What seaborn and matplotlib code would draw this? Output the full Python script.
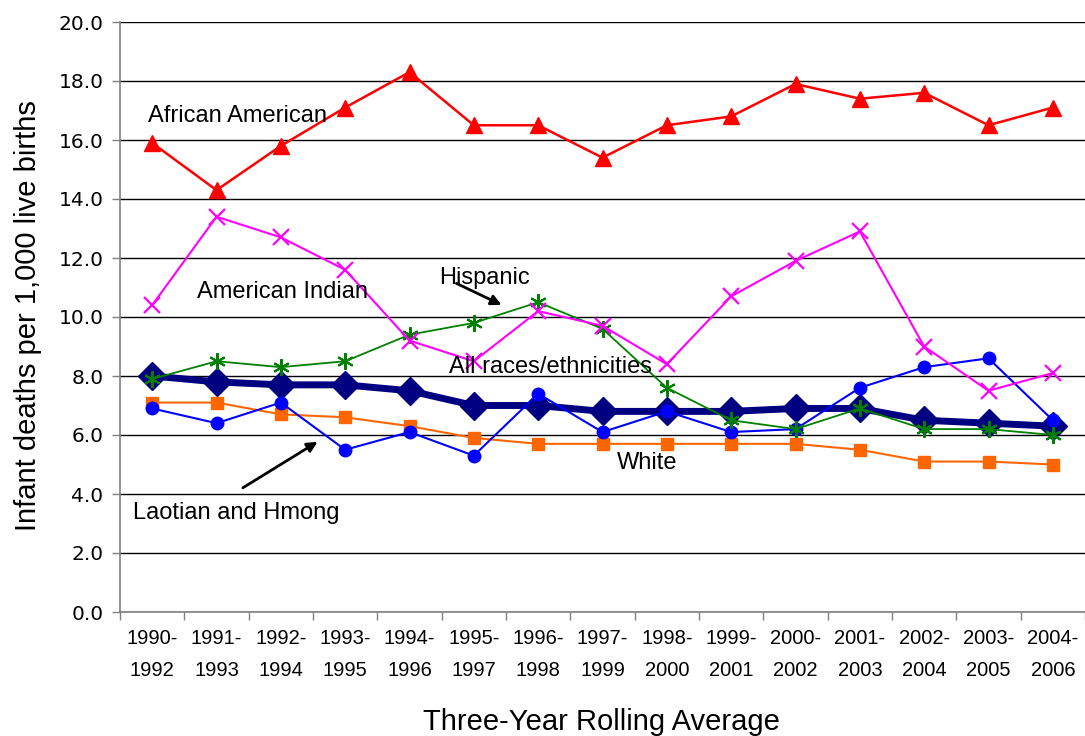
import matplotlib
matplotlib.use("Agg")
import matplotlib.pyplot as plt
from matplotlib.ticker import FixedLocator, FormatStrFormatter
import seaborn as sns
import pandas as pd
import numpy as np

periods = ["1990-1992", "1991-1993", "1992-1994", "1993-1995", "1994-1996",
           "1995-1997", "1996-1998", "1997-1999", "1998-2000", "1999-2001",
           "2000-2002", "2001-2003", "2002-2004", "2003-2005", "2004-2006"]

all_races = [8.0, 7.8, 7.7, 7.7, 7.5, 7.0, 7.0, 6.8, 6.8, 6.8, 6.9, 6.9, 6.5, 6.4, 6.3]
white = [7.1, 7.1, 6.7, 6.6, 6.3, 5.9, 5.7, 5.7, 5.7, 5.7, 5.7, 5.5, 5.1, 5.1, 5.0]
laotian_hmong = [6.9, 6.4, 7.1, 5.5, 6.1, 5.3, 7.4, 6.1, 6.8, 6.1, 6.2, 7.6, 8.3, 8.6, 6.5]
hispanic = [7.9, 8.5, 8.3, 8.5, 9.4, 9.8, 10.5, 9.6, 7.6, 6.5, 6.2, 6.9, 6.2, 6.2, 6.0]
american_indian = [10.4, 13.4, 12.7, 11.6, 9.2, 8.5, 10.2, 9.7, 8.4, 10.7, 11.9, 12.9, 9.0, 7.5, 8.1]
african_american = [15.9, 14.3, 15.8, 17.1, 18.3, 16.5, 16.5, 15.4, 16.5, 16.8, 17.9, 17.4, 17.6, 16.5, 17.1]

y_ticks = [0, 2, 4, 6, 8, 10, 12, 14, 16, 18, 20]

sns.set_theme(style="white")
plt.rcParams["font.family"] = ["Liberation Sans", "DejaVu Sans"]
plt.rcParams.update({"text.color": "black", "axes.labelcolor": "black",
                     "xtick.color": "black", "ytick.color": "black"})

fig = plt.figure(figsize=(10.85, 7.36), dpi=100)
ax = fig.add_axes([120 / 1085, 124 / 736, 965 / 1085, 590 / 736])

pos = np.arange(len(periods))

# series: (values, color, marker, markersize, linewidth, marker edge width)
series = [
    (all_races, "#000080", "D", 14, 5.0, 1.0),
    (white, "#FF6600", "s", 9, 1.5, 1.0),
    (laotian_hmong, "#0000FF", "o", 9, 1.5, 1.0),
    (hispanic, "#008000", (6, 2, 0), 12, 1.3, 1.5),
    (american_indian, "#FF00FF", "x", 11, 1.5, 1.6),
    (african_american, "#FF0000", "^", 12, 1.8, 1.0),
]

for vals, color, mk, ms, lw, mew in series:
    df = pd.DataFrame({"x": pos, "y": vals})
    sns.lineplot(data=df, x="x", y="y", ax=ax, color=color, linewidth=lw,
                 marker=mk, markersize=ms, markeredgecolor=color,
                 markerfacecolor=color, markeredgewidth=mew)

ax.set_xlim(-0.5, len(periods) - 0.5)
ax.set_ylim(0, 20)

ax.yaxis.set_major_locator(FixedLocator(y_ticks))
ax.yaxis.set_major_formatter(FormatStrFormatter("%.1f"))
ax.grid(axis="y", color="black", linewidth=1.0)
ax.grid(axis="x", visible=False)

ax.set_xticks(pos)
ax.set_xticklabels([p.replace("-", "-\n") for p in periods], linespacing=1.9)
ax.set_xticks(np.arange(-0.5, len(periods)), minor=True)
ax.tick_params(axis="x", which="major", length=0, pad=12, labelsize=14.5,
               labelcolor="black")
ax.tick_params(axis="x", which="minor", length=6, width=1, color="#808080",
               direction="out", bottom=True)
ax.tick_params(axis="y", which="major", length=6, width=1, color="#808080",
               direction="out", left=True, labelsize=14.5, pad=6,
               labelcolor="black")
for lbl in ax.get_yticklabels():
    lbl.set_fontfamily("DejaVu Sans")

for side in ["top", "right"]:
    ax.spines[side].set_visible(False)
for side in ["left", "bottom"]:
    ax.spines[side].set_color("#808080")
    ax.spines[side].set_linewidth(1.2)

ax.set_xlabel("Three-Year Rolling Average", fontsize=21)
ax.xaxis.set_label_coords(0.499, -0.162)
ax.set_ylabel("Infant deaths per 1,000 live births", fontsize=21)
ax.yaxis.set_label_coords(-0.081, 0.503)

label_kw = dict(fontsize=17, color="black", va="center", ha="left")
ax.text(-0.065, 16.8, "African American", **label_kw)
ax.text(0.70, 10.85, "American Indian", **label_kw)
ax.text(4.46, 11.32, "Hispanic", **label_kw)
ax.text(4.61, 8.3, "All races/ethnicities", **label_kw)
ax.text(7.23, 5.05, "White", **label_kw)
ax.text(-0.3, 3.36, "Laotian and Hmong", **label_kw)

arrow_kw = dict(arrowstyle="-|>", color="black", lw=2, mutation_scale=15,
                shrinkA=0, shrinkB=0)
ax.annotate("", xy=(5.43, 10.41), xytext=(4.73, 11.14), arrowprops=arrow_kw)
ax.annotate("", xy=(2.57, 5.77), xytext=(1.41, 4.21), arrowprops=arrow_kw)

fig.savefig("out.png", dpi=100)
